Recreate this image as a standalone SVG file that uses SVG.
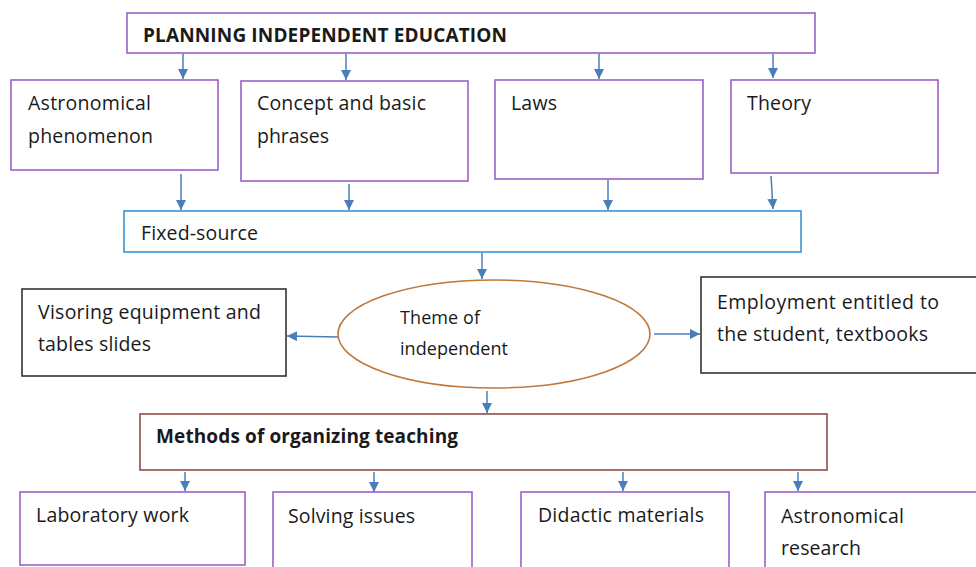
<svg xmlns="http://www.w3.org/2000/svg" width="976" height="567" viewBox="0 0 976 567">
<style>
.bg{fill:#ffffff}
.box{fill:#ffffff;stroke-width:1.6}
.purple{stroke:#9B5FC9}
.blue{stroke:#3A93D8}
.black{stroke:#333333}
.maroon{stroke:#8E4B4B}
.ell{fill:#ffffff;stroke:#C0773A;stroke-width:1.6}
text{font-family:"Open Sans","Liberation Sans",sans-serif;font-size:19.5px;fill:#1a1a1a}
.b{font-weight:bold;font-size:19px}
.sm{font-size:18px}
.conn line{stroke:#4A7EBB;stroke-width:1.5;marker-end:url(#ah)}
</style>
<defs>
<marker id="ah" viewBox="0 0 10 10" refX="10" refY="5" markerWidth="10" markerHeight="10" markerUnits="userSpaceOnUse" orient="auto">
<path d="M0,0 L10,5 L0,10 Z" fill="#4A7EBB"/>
</marker>
</defs>
<rect class="bg" x="0" y="0" width="976" height="567"/>

<g id="node-planning">
<rect class="box purple" x="127" y="13" width="688" height="40"/>
<text class="b" x="143" y="42" textLength="364">PLANNING INDEPENDENT EDUCATION</text>
</g>

<g id="node-astro-phen">
<rect class="box purple" x="11" y="80" width="207" height="90"/>
<text x="28" y="110" textLength="123">Astronomical</text>
<text x="28" y="143" textLength="125">phenomenon</text>
</g>

<g id="node-concept">
<rect class="box purple" x="241" y="81" width="227" height="100"/>
<text x="257" y="110" textLength="169">Concept and basic</text>
<text x="257" y="143" textLength="72">phrases</text>
</g>

<g id="node-laws">
<rect class="box purple" x="495" y="80" width="208" height="99"/>
<text x="511" y="110" textLength="46">Laws</text>
</g>

<g id="node-theory">
<rect class="box purple" x="731" y="80" width="207" height="93"/>
<text x="747" y="110" textLength="64">Theory</text>
</g>

<g id="node-fixed">
<rect class="box blue" x="124" y="211" width="677" height="41"/>
<text x="141" y="240" textLength="117">Fixed-source</text>
</g>

<g id="node-theme">
<ellipse class="ell" cx="494" cy="334" rx="156" ry="54"/>
<text class="sm" x="400" y="324" textLength="80">Theme of</text>
<text class="sm" x="400" y="355" textLength="108">independent</text>
</g>

<g id="node-visoring">
<rect class="box black" x="22" y="289" width="264" height="87"/>
<text x="38" y="319" textLength="223">Visoring equipment and</text>
<text x="38" y="351" textLength="113">tables slides</text>
</g>

<g id="node-employment">
<rect class="box black" x="701" y="277" width="290" height="96"/>
<text x="717" y="309" textLength="222">Employment entitled to</text>
<text x="717" y="341" textLength="211">the student, textbooks</text>
</g>

<g id="node-methods">
<rect class="box maroon" x="140" y="414" width="687" height="56"/>
<text class="b" x="156" y="443" textLength="302">Methods of organizing teaching</text>
</g>

<g id="node-lab">
<rect class="box purple" x="20" y="492" width="225" height="73"/>
<text x="36" y="522" textLength="153">Laboratory work</text>
</g>

<g id="node-solving">
<rect class="box purple" x="273" y="492" width="199" height="90"/>
<text x="288" y="523" textLength="127">Solving issues</text>
</g>

<g id="node-didactic">
<rect class="box purple" x="521" y="492" width="208" height="90"/>
<text x="538" y="522" textLength="166">Didactic materials</text>
</g>

<g id="node-astro-research">
<rect class="box purple" x="765" y="492" width="230" height="90"/>
<text x="781" y="523" textLength="123">Astronomical</text>
<text x="781" y="555" textLength="80">research</text>
</g>

<g id="connectors" class="conn">
<line x1="183" y1="54" x2="183" y2="79"/>
<line x1="346" y1="54" x2="346" y2="80"/>
<line x1="599" y1="54" x2="599" y2="79"/>
<line x1="773" y1="54" x2="773" y2="78"/>
<line x1="181" y1="174" x2="181" y2="210"/>
<line x1="349" y1="184" x2="349" y2="210"/>
<line x1="608" y1="180" x2="608" y2="210"/>
<line x1="771" y1="176" x2="773" y2="209"/>
<line x1="482" y1="253" x2="482" y2="279"/>
<line x1="338" y1="337" x2="287" y2="336"/>
<line x1="654" y1="334" x2="700" y2="334"/>
<line x1="487" y1="391" x2="487" y2="413"/>
<line x1="185" y1="472" x2="185" y2="491"/>
<line x1="374" y1="472" x2="374" y2="492"/>
<line x1="623" y1="472" x2="623" y2="491"/>
<line x1="798" y1="472" x2="798" y2="491"/>
</g>
</svg>
